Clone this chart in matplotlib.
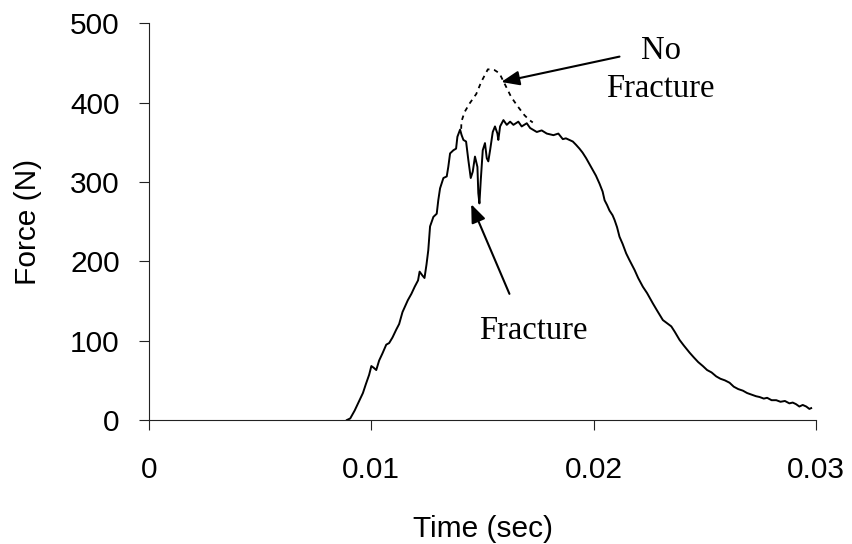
import matplotlib.pyplot as plt

# Force-time trace, fractured specimen (solid)
time_fracture = [
    0.00890, 0.00905, 0.00925, 0.00940, 0.00950, 0.00962, 0.00975, 0.00990, 0.01000, 0.01010,
    0.01022, 0.01035, 0.01050, 0.01067, 0.01080, 0.01095, 0.01112, 0.01125, 0.01140, 0.01164,
    0.01180, 0.01195, 0.01210, 0.01217, 0.01230, 0.01239, 0.01248, 0.01256, 0.01264, 0.01279,
    0.01294, 0.01301, 0.01309, 0.01324, 0.01339, 0.01346, 0.01354, 0.01369, 0.01381, 0.01387,
    0.01399, 0.01406, 0.01414, 0.01426, 0.01436, 0.01447, 0.01456, 0.01466, 0.01477, 0.01481,
    0.01486, 0.01492, 0.01501, 0.01511, 0.01519, 0.01526, 0.01534, 0.01546, 0.01556, 0.01567,
    0.01571, 0.01579, 0.01594, 0.01609, 0.01624, 0.01639, 0.01661, 0.01676, 0.01699, 0.01714,
    0.01744, 0.01766, 0.01789, 0.01819, 0.01841, 0.01861, 0.01875, 0.01906, 0.01920, 0.01936,
    0.01950, 0.01966, 0.01980, 0.01996, 0.02010, 0.02026, 0.02040, 0.02049, 0.02060, 0.02071,
    0.02085, 0.02094, 0.02105, 0.02116, 0.02130, 0.02146, 0.02160, 0.02184, 0.02200, 0.02221,
    0.02240, 0.02266, 0.02285, 0.02311, 0.02330, 0.02349, 0.02365, 0.02386, 0.02405, 0.02431,
    0.02450, 0.02470, 0.02491, 0.02510, 0.02530, 0.02551, 0.02570, 0.02590, 0.02611, 0.02630,
    0.02650, 0.02671, 0.02690, 0.02710, 0.02730, 0.02746, 0.02765, 0.02780, 0.02800, 0.02821,
    0.02840, 0.02860, 0.02880, 0.02895, 0.02910, 0.02925, 0.02940, 0.02956, 0.02970, 0.02978,
]
force_fracture = [
    0, 2, 12, 21, 27, 34, 45, 57, 68, 66,
    63, 75, 84, 95, 97, 104, 114, 121, 136, 151,
    159, 168, 176, 187, 182, 179, 196, 214, 244, 256,
    260, 277, 292, 305, 307, 319, 336, 340, 342, 357,
    366, 359, 353, 351, 328, 305, 313, 332, 319, 286,
    273, 302, 340, 349, 330, 326, 340, 363, 370, 361,
    353, 370, 378, 372, 376, 372, 376, 370, 374, 368,
    363, 365, 361, 359, 361, 354, 355, 351, 347, 342,
    337, 330, 323, 315, 308, 298, 288, 277, 271, 264,
    258, 252, 243, 231, 222, 210, 202, 189, 179, 168,
    160, 147, 138, 126, 122, 118, 111, 101, 94, 85,
    79, 73, 68, 63, 60, 55, 52, 50, 47, 42,
    39, 37, 34, 32, 30, 29, 27, 28, 25, 25,
    23, 24, 21, 22, 20, 17, 19, 17, 14, 15,
]

# Trace for the specimen that did not fracture (dashed)
time_intact = [0.01404, 0.01405, 0.01419, 0.01442, 0.01472, 0.01494, 0.01524, 0.01554,
               0.01576, 0.01599, 0.01629, 0.01659, 0.01689, 0.01711, 0.01726]
force_intact = [367, 376, 388, 399, 411, 426, 442, 441,
                437, 424, 407, 395, 384, 378, 375]

x_ticks = [0, 0.01, 0.02, 0.03]
x_tick_labels = ['0', '0.01', '0.02', '0.03']
y_ticks = [0, 100, 200, 300, 400, 500]

sans = ['Liberation Sans', 'DejaVu Sans']
serif = ['Liberation Serif', 'DejaVu Serif']

fig = plt.figure(figsize=(8.52, 5.44), dpi=100)
ax = fig.add_axes([0.1749, 0.2279, 0.7829, 0.7293])

ax.plot(time_fracture, force_fracture, color='black', linewidth=1.4)
ax.plot(time_intact, force_intact, color='black', linewidth=1.3, linestyle=(0, (2.5, 2.5)))

ax.set_xlim(0, 0.03)
ax.set_ylim(0, 500)
ax.set_xticks(x_ticks)
ax.set_xticklabels(x_tick_labels)
ax.set_yticks(y_ticks)

for side in ['top', 'right']:
    ax.spines[side].set_visible(False)
for side in ['left', 'bottom']:
    ax.spines[side].set_linewidth(0.8)
    ax.spines[side].set_color('#222222')

ax.tick_params(axis='both', direction='out', length=7, width=0.8, color='#222222',
               labelsize=21.5)
ax.tick_params(axis='x', pad=19)
ax.tick_params(axis='y', pad=14)
for lbl in ax.get_xticklabels() + ax.get_yticklabels():
    lbl.set_family(sans)

ax.set_xlabel('Time (sec)', fontsize=21.5, family=sans, labelpad=22)
ax.set_ylabel('Force (N)', fontsize=21.5, family=sans, labelpad=20)

# Arrows pointing at the two traces
arrow_style = dict(arrowstyle='-|>,head_length=0.55,head_width=0.22', mutation_scale=20,
                   color='black', lw=1.5, shrinkA=0, shrinkB=0)
ax.annotate('', xy=(0.01449, 272), xytext=(0.01621, 159), arrowprops=arrow_style)
ax.annotate('', xy=(0.01584, 426), xytext=(0.02116, 458), arrowprops=arrow_style)

ax.text(0.01727, 102, 'Fracture', ha='center', va='baseline', fontsize=23.5, family=serif)
ax.text(0.02301, 455, 'No', ha='center', va='baseline', fontsize=23.5, family=serif)
ax.text(0.02301, 407, 'Fracture', ha='center', va='baseline', fontsize=23.5, family=serif)

plt.savefig('out.png', dpi=100)
plt.close()
